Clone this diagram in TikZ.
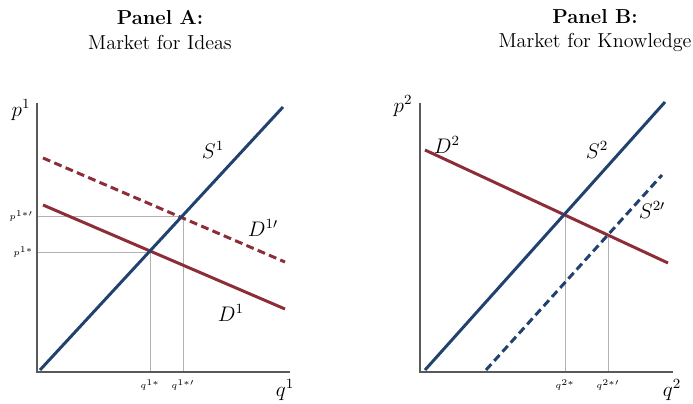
\documentclass[tikz,border=0pt]{standalone}
\usetikzlibrary{positioning}
\definecolor{supblue}{RGB}{33,66,110}
\definecolor{demred}{RGB}{140,45,55}
\begin{document}
\begin{tikzpicture}[
  x=0.02cm, y=-0.02cm,
  font=\fontsize{11.5}{14}\selectfont,
  ax/.style={draw=black!65, line width=0.8pt},
  sply/.style={draw=supblue, line width=1.7pt},
  dmnd/.style={draw=demred, line width=1.7pt},
  moved/.style={dash pattern=on 4.5pt off 2.5pt},
  guide/.style={draw=black!30, line width=0.4pt},
  tick/.style={font=\fontsize{5.5}{6}\selectfont, inner sep=1pt},
  lbl/.style={inner sep=1pt}
]
\useasboundingbox (0,0) rectangle (693,404);

% titles
\node[font=\fontsize{11.5}{14}\selectfont\bfseries] (ta) at (160,17) {Panel A:};
\node (sa) at (160,42) {Market for Ideas};
\node[font=\fontsize{11.5}{14}\selectfont\bfseries] (tb) at (595,17) {Panel B:};
\node (sb) at (595,42) {Market for Knowledge};

% Panel A
\coordinate (oa) at (37,372);
\coordinate (ya) at (37,103);
\coordinate (xa) at (290,372);
\coordinate (e1) at (150,252);
\coordinate (e1p) at (183,216);
\draw[guide] (oa |- e1) -- (e1) -- (e1 |- oa);
\draw[guide] (oa |- e1p) -- (e1p) -- (e1p |- oa);
\draw[ax] (ya) -- (oa) -- (xa);
\coordinate (s1a) at (40,370);
\coordinate (s1b) at (283,107);
\coordinate (d1a) at (43,205);
\coordinate (d1b) at (285,309);
\coordinate (d1pa) at (43,158);
\coordinate (d1pb) at (285,262);
\draw[dmnd] (d1a) -- (d1b);
\draw[dmnd, moved] (d1pa) -- (d1pb);
\draw[sply] (s1a) -- (s1b);
\node[lbl] (p1) at (21,110) {$p^1$};
\node[lbl] (q1) at (285,390) {$q^1$};
\node[lbl] (s1l) at (213,150) {$S^1$};
\node[lbl] (d1pl) at (263,228) {$D^{1\prime}$};
\node[lbl] (d1l) at (231,313) {$D^1$};
\node[tick, left=1pt of oa |- e1] (pe1) {$p^{1*}$};
\node[tick, left=1pt of oa |- e1p] (pe1p) {$p^{1*\prime}$};
\node[tick, below=3pt of e1 |- oa] (qe1) {$q^{1*}$};
\node[tick, below=3pt of e1p |- oa] (qe1p) {$q^{1*\prime}$};

% Panel B
\coordinate (ob) at (420,372);
\coordinate (yb) at (420,103);
\coordinate (xb) at (673,372);
\coordinate (e2) at (565,215);
\coordinate (e2p) at (608,235);
\draw[guide] (e2) -- (e2 |- ob);
\draw[guide] (e2p) -- (e2p |- ob);
\draw[ax] (yb) -- (ob) -- (xb);
\coordinate (s2a) at (425,370);
\coordinate (s2b) at (665,102);
\coordinate (s2pa) at (486,370);
\coordinate (s2pb) at (662,175);
\coordinate (d2a) at (425,150);
\coordinate (d2b) at (668,263);
\draw[dmnd] (d2a) -- (d2b);
\draw[sply] (s2a) -- (s2b);
\draw[sply, moved] (s2pa) -- (s2pb);
\node[lbl] (p2) at (403,106) {$p^2$};
\node[lbl] (q2) at (672,390) {$q^2$};
\node[lbl] (d2l) at (447,145) {$D^2$};
\node[lbl] (s2l) at (597,150) {$S^2$};
\node[lbl] (s2pl) at (652,210) {$S^{2\prime}$};
\node[tick, below=3pt of e2 |- ob] (qe2) {$q^{2*}$};
\node[tick, below=3pt of e2p |- ob] (qe2p) {$q^{2*\prime}$};
\end{tikzpicture}
\end{document}
